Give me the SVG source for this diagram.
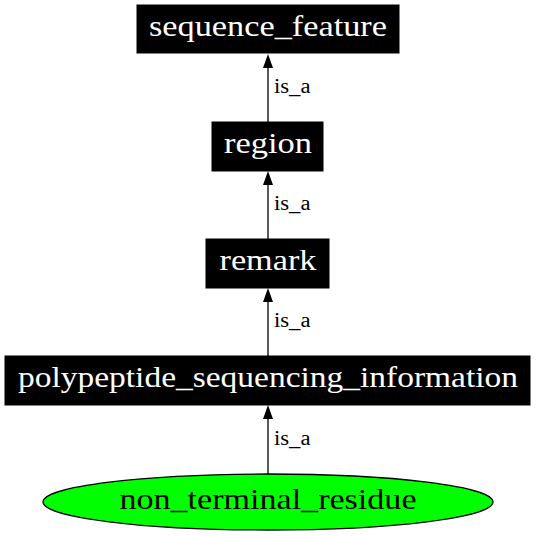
<svg xmlns="http://www.w3.org/2000/svg" width="536" height="536" viewBox="0 0 536 536">
<style>
  .box { fill: #000000; stroke: #000000; stroke-width: 1; }
  .ell { fill: #00ff00; stroke: #000000; stroke-width: 1.3; }
  .lbl { font-family: "Liberation Serif", "Times New Roman", serif; font-size: 30px; text-anchor: middle; }
  .wht { fill: #ffffff; }
  .blk { fill: #000000; }
  .edge { stroke: #000000; stroke-width: 1.3; fill: none; }
  .elbl { font-family: "Liberation Serif", "Times New Roman", serif; font-size: 20.5px; fill: #000000; }
</style>
<rect width="536" height="536" fill="#ffffff"/>
<g id="edges">
  <g id="e1"><line class="edge" x1="268" y1="122" x2="268" y2="68"/><polygon points="268,54 263,68 273,68" fill="#000"/><text class="elbl" x="274" y="93" textLength="36.5" lengthAdjust="spacingAndGlyphs">is_a</text></g>
  <g id="e2"><line class="edge" x1="268" y1="239" x2="268" y2="185"/><polygon points="268,171 263,185 273,185" fill="#000"/><text class="elbl" x="274" y="210" textLength="36.5" lengthAdjust="spacingAndGlyphs">is_a</text></g>
  <g id="e3"><line class="edge" x1="268" y1="356" x2="268" y2="302"/><polygon points="268,288 263,302 273,302" fill="#000"/><text class="elbl" x="274" y="327" textLength="36.5" lengthAdjust="spacingAndGlyphs">is_a</text></g>
  <g id="e4"><line class="edge" x1="268" y1="474" x2="268" y2="419"/><polygon points="268,405 263,419 273,419" fill="#000"/><text class="elbl" x="274" y="445" textLength="36.5" lengthAdjust="spacingAndGlyphs">is_a</text></g>
</g>
<g id="sequence_feature"><rect class="box" x="137" y="5" width="262" height="48"/><text class="lbl wht" x="268" y="36" textLength="238" lengthAdjust="spacingAndGlyphs">sequence_feature</text></g>
<g id="region"><rect class="box" x="212" y="122" width="111" height="49"/><text class="lbl wht" x="268" y="153" textLength="88" lengthAdjust="spacingAndGlyphs">region</text></g>
<g id="remark"><rect class="box" x="206" y="239" width="123" height="49"/><text class="lbl wht" x="268" y="270" textLength="97" lengthAdjust="spacingAndGlyphs">remark</text></g>
<g id="polypeptide_sequencing_information"><rect class="box" x="5" y="356" width="525" height="49"/><text class="lbl wht" x="268" y="387" textLength="500" lengthAdjust="spacingAndGlyphs">polypeptide_sequencing_information</text></g>
<g id="non_terminal_residue"><ellipse class="ell" cx="268" cy="502" rx="225" ry="28"/><text class="lbl blk" x="268" y="509" textLength="297" lengthAdjust="spacingAndGlyphs">non_terminal_residue</text></g>
</svg>
